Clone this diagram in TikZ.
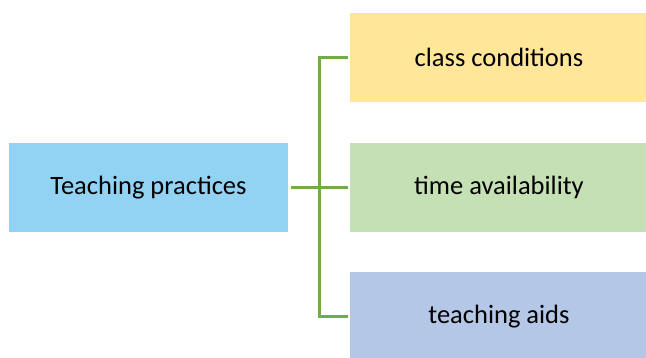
\documentclass[tikz,border=0pt]{standalone}
\usepackage{fontspec}
\setmainfont{Carlito}
\definecolor{lblue}{HTML}{92D3F4}
\definecolor{lgold}{HTML}{FFE699}
\definecolor{lgreen}{HTML}{C5E0B4}
\definecolor{lpurp}{HTML}{B4C7E7}
\definecolor{cgreen}{HTML}{70AD47}
\begin{document}
\begin{tikzpicture}[x=1pt,y=-1pt,
  boxstyle/.style={rectangle, inner sep=0pt, minimum height=88.5pt, text=black,
    font=\fontsize{26.5}{30}\selectfont},
  leftbox/.style={boxstyle, fill=lblue, minimum width=279pt},
  rightbox/.style={boxstyle, minimum width=298pt},
  conn/.style={draw=cgreen, line width=2.5pt}]
\useasboundingbox (0,0) rectangle (646,358);
\begin{scope}
\clip (0,0) rectangle (646,358);
\node[leftbox] (tp) at (148.5,187.5) {Teaching practices};
\node[rightbox, fill=lgold] (cc) at (499,57.5) {class conditions};
\node[rightbox, fill=lgreen] (tv) at (499,187.5) {time availability};
\node[rightbox, fill=lpurp] (ta) at (499,316.7) {teaching aids};
\end{scope}
\coordinate (j) at (319.3,187.5);
\draw[conn] ([xshift=-2pt]cc.west) -| (j |- ta.west) -- ([xshift=-2pt]ta.west);
\draw[conn] ([xshift=3pt]tp.east) -- ([xshift=-2pt]tv.west);
\end{tikzpicture}
\end{document}
